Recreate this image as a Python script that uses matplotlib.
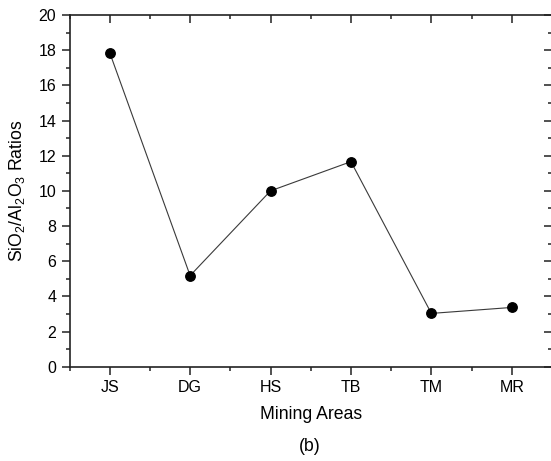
import numpy as np
import matplotlib.pyplot as plt
from matplotlib.ticker import MultipleLocator, FixedLocator

areas = ["JS", "DG", "HS", "TB", "TM", "MR"]
ratios = [17.86, 5.18, 10.0, 11.66, 3.03, 3.37]

plt.rcParams['font.family'] = ['Liberation Sans', 'DejaVu Sans']
plt.rcParams['mathtext.fontset'] = 'custom'
plt.rcParams['mathtext.rm'] = 'Liberation Sans'
plt.rcParams['mathtext.it'] = 'Liberation Sans:italic'

fig = plt.figure(figsize=(5.51, 4.61), dpi=100)
ax = fig.add_axes([69.5 / 551, 1 - 366.7 / 461, 482.5 / 551, (366.7 - 15) / 461])

x = np.arange(1, len(areas) + 1)
ax.plot(x, ratios, color='#3a3a3a', lw=0.8, marker='o', ms=6.8,
        mfc='black', mec='black', zorder=3)

ax.set_xlim(0.5, len(areas) + 0.5)
ax.set_ylim(0, 20)
ax.set_xticks(x)
ax.set_xticklabels(areas)
ax.xaxis.set_minor_locator(FixedLocator(np.arange(0.5, len(areas) + 1, 1.0)))
ax.yaxis.set_major_locator(MultipleLocator(2))
ax.yaxis.set_minor_locator(MultipleLocator(1))

# origin-style ticks: outward on left/bottom, inward on top/right
ax.tick_params(which='both', direction='out', width=1.1, labelsize=11.5, color='#222222')
ax.tick_params(which='major', length=6)
ax.tick_params(which='minor', length=3)
ax.tick_params(which='both', top=True, right=True)
for t in ax.xaxis.get_major_ticks() + ax.xaxis.get_minor_ticks():
    t.tick2line.set_marker(3)  # TICKDOWN for top
for t in ax.yaxis.get_major_ticks() + ax.yaxis.get_minor_ticks():
    t.tick2line.set_marker(0)  # TICKLEFT for right

for s in ax.spines.values():
    s.set_linewidth(1.2)
    s.set_color('#222222')

ax.set_xlabel("Mining Areas", fontsize=12.7, labelpad=8)
ax.set_ylabel(r"SiO$_2$/Al$_2$O$_3$ Ratios", fontsize=12.7, labelpad=8)
fig.text(310 / 551, 1 - 446 / 461, "(b)", fontsize=12.7, ha='center', va='center')

fig.savefig("out.png", dpi=100)
